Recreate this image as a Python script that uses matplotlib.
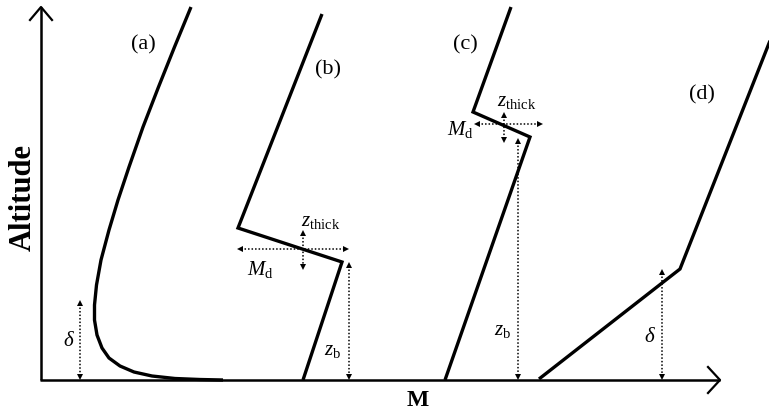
import matplotlib
matplotlib.use("Agg")
import matplotlib.pyplot as plt

plt.rcParams['mathtext.fontset'] = 'custom'
plt.rcParams['mathtext.rm'] = 'Liberation Serif'
plt.rcParams['mathtext.it'] = 'Liberation Serif:italic'
plt.rcParams['mathtext.bf'] = 'Liberation Serif:bold'
SERIF = 'Liberation Serif'

# ---- schematic profile data (pixel-space coordinates) ----
curve_a_x = [191, 174.5, 158.5, 143, 129, 118, 109, 101, 96.5, 94.5, 94.5, 97,
             102, 109, 120, 134, 152, 175, 200, 223]
curve_a_y = [7, 47, 87, 127, 167, 200, 230, 260, 285, 305, 320, 335,
             348, 358, 366, 372, 376, 378.5, 379.5, 380]

curve_b_x = [322, 238, 342, 303]
curve_b_y = [14, 228, 262, 380]

curve_c_x = [511, 473, 530, 445]
curve_c_y = [7, 112, 137, 380]

curve_d_x = [539, 680, 790]
curve_d_y = [379, 269, -10]

panel_labels = ['(a)', '(b)', '(c)', '(d)']
panel_label_x = [143, 328, 465, 702]
panel_label_y = [45, 70, 45, 95]

# vertical dotted double arrows: x, y_top, y_bottom
vert_arrows_x = [80, 349, 518, 662, 303, 504]
vert_arrows_top = [301, 263, 139, 270, 231, 113]
vert_arrows_bot = [379, 379, 379, 379, 269, 142]

# horizontal dotted double arrows: y, x_left, x_right
horiz_arrows_y = [249, 124]
horiz_arrows_left = [238, 475]
horiz_arrows_right = [348, 542]

sym_labels = [r'$\delta$', r'$z_{\mathrm{b}}$', r'$z_{\mathrm{thick}}$', r'$M_{\mathrm{d}}$',
              r'$z_{\mathrm{b}}$', r'$z_{\mathrm{thick}}$', r'$M_{\mathrm{d}}$', r'$\delta$']
sym_x = [69, 333, 321, 260, 503, 517, 460, 650]
sym_y = [341, 350, 221, 270, 330, 101, 129, 337]

W, H = 769, 412
fig = plt.figure(figsize=(W / 100, H / 100), dpi=100)
ax = fig.add_axes([0, 0, 1, 1])
ax.set_xlim(0, W)
ax.set_ylim(H, 0)
ax.axis('off')

# axes with arrows
ax.plot([41, 41], [380, 7], color='black', lw=1.8, solid_capstyle='butt')
ax.plot([30, 41, 52], [20, 7, 20], color='black', lw=1.6)
ax.plot([40, 720], [380, 380], color='black', lw=1.8, solid_capstyle='butt')
ax.plot([708, 720, 708], [367, 380, 393], color='black', lw=1.6)

# profiles
for xs, ys in [(curve_a_x, curve_a_y), (curve_b_x, curve_b_y),
               (curve_c_x, curve_c_y), (curve_d_x, curve_d_y)]:
    ax.plot(xs, ys, color='black', lw=2.4, solid_joinstyle='miter',
            solid_capstyle='butt', clip_on=True)

dot = (0, (1, 1.3))
for x, yt, yb in zip(vert_arrows_x, vert_arrows_top, vert_arrows_bot):
    ax.plot([x, x], [yt + 3, yb - 3], color='black', lw=1.1, linestyle=dot)
    ax.plot([x], [yt + 2], marker='^', color='black', markersize=4, markeredgewidth=0)
    ax.plot([x], [yb - 2], marker='v', color='black', markersize=4, markeredgewidth=0)

for y, xl, xr in zip(horiz_arrows_y, horiz_arrows_left, horiz_arrows_right):
    ax.plot([xl + 3, xr - 3], [y, y], color='black', lw=1.1, linestyle=dot)
    ax.plot([xl + 2], [y], marker='<', color='black', markersize=4, markeredgewidth=0)
    ax.plot([xr - 2], [y], marker='>', color='black', markersize=4, markeredgewidth=0)

for lab, x, y in zip(panel_labels, panel_label_x, panel_label_y):
    ax.text(x, y, lab, ha='center', va='center', fontsize=16, family=SERIF)

for lab, x, y in zip(sym_labels, sym_x, sym_y):
    ax.text(x, y, lab, ha='center', va='center', fontsize=15, family=SERIF)

ax.text(23, 197, 'Altitude', rotation=90, ha='center', va='center',
        fontsize=22, fontweight='bold', family=SERIF)
ax.text(418, 400, 'M', ha='center', va='center', fontsize=17,
        fontweight='bold', family=SERIF)

fig.savefig('out.png', dpi=100)
